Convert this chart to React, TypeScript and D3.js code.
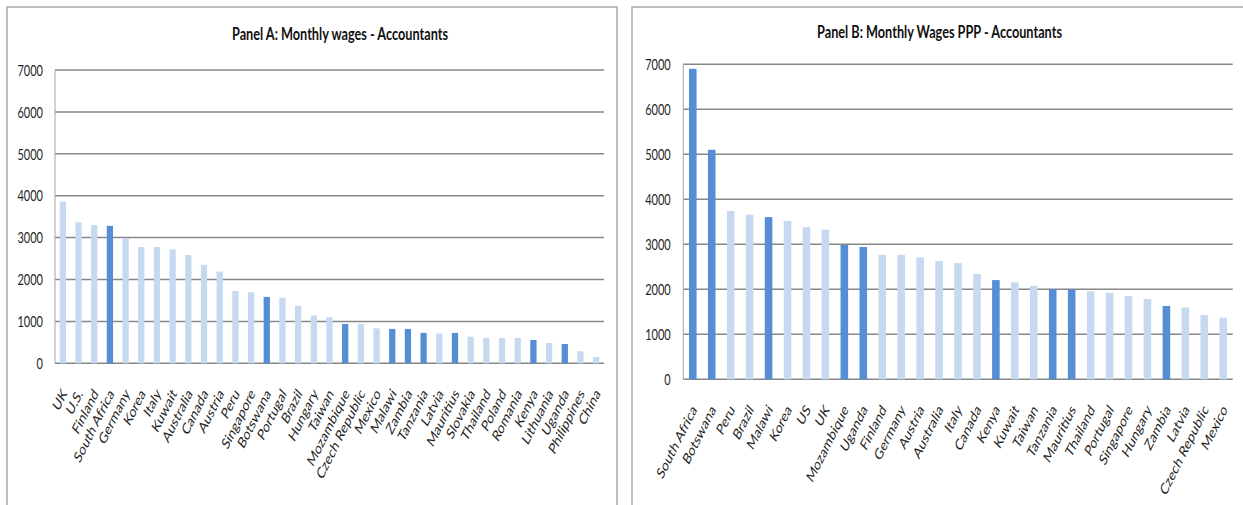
import React from "react";
import * as d3 from "d3";

// Panel A: monthly wages of accountants (USD)
const wageCountries = [
  "UK", "U.S.", "Finland", "South Africa", "Germany", "Korea", "Italy", "Kuwait",
  "Australia", "Canada", "Austria", "Peru", "Singapore", "Botswana", "Portugal",
  "Brazil", "Hungary", "Taiwan", "Mozambique", "Czech Republic", "Mexico", "Malawi",
  "Zambia", "Tanzania", "Latvia", "Mauritius", "Slovakia", "Thailand", "Poland",
  "Romania", "Kenya", "Lithuania", "Uganda", "Philippines", "China",
];
const wageValues = [
  3860, 3365, 3300, 3280, 2985, 2775, 2775, 2720,
  2585, 2350, 2190, 1725, 1695, 1585, 1565,
  1370, 1140, 1100, 940, 940, 835, 820,
  820, 725, 710, 725, 635, 605, 605,
  605, 555, 485, 460, 285, 150,
];

// Panel B: monthly wages of accountants at PPP
const pppCountries = [
  "South Africa", "Botswana", "Peru", "Brazil", "Malawi", "Korea", "US", "UK",
  "Mozambique", "Uganda", "Finland", "Germany", "Austria", "Australia", "Italy",
  "Canada", "Kenya", "Kuwait", "Taiwan", "Tanzania", "Mauritius", "Thailand",
  "Portugal", "Singapore", "Hungary", "Zambia", "Latvia", "Czech Republic", "Mexico",
];
const pppValues = [
  6900, 5100, 3740, 3660, 3605, 3520, 3380, 3325,
  2985, 2940, 2765, 2765, 2710, 2630, 2580,
  2340, 2205, 2155, 2075, 2000, 2000, 1955,
  1925, 1850, 1785, 1630, 1595, 1430, 1370,
];

// African countries are drawn in the darker blue
const africanCountries = [
  "South Africa", "Botswana", "Mozambique", "Malawi", "Zambia", "Tanzania",
  "Mauritius", "Kenya", "Uganda",
];

const yTicks = [0, 1000, 2000, 3000, 4000, 5000, 6000, 7000];
const titles = [
  "Panel A: Monthly wages - Accountants",
  "Panel B: Monthly Wages PPP - Accountants",
];

const DARK = "#558ED5";
const LIGHT = "#C6D9F1";
const GRID = "#878787";
const TEXT = "#1f1f1f";
const FONT = "Lato, 'Open Sans', sans-serif";
const SY = 1.4; // vertical text stretch

type Layout = {
  boxX: number;
  boxY: number;
  boxW: number;
  left: number;
  right: number;
  top: number;
  bottom: number;
  titleX: number;
  titleY: number;
  yLabelX: number;
};

const layoutA: Layout = {
  boxX: 7, boxY: 7, boxW: 610,
  left: 55, right: 604, top: 70, bottom: 363.3,
  titleX: 340, titleY: 33, yLabelX: 43,
};
const layoutB: Layout = {
  boxX: 632, boxY: 7, boxW: 640,
  left: 683.3, right: 1232.7, top: 64.3, bottom: 379.3,
  titleX: 939.5, titleY: 31.5, yLabelX: 670.7,
};

function Panel({
  layout,
  categories,
  values,
  title,
}: {
  layout: Layout;
  categories: string[];
  values: number[];
  title: string;
}) {
  const x = d3
    .scaleBand<string>()
    .domain(categories)
    .range([layout.left, layout.right])
    .paddingInner(0.6)
    .paddingOuter(0.3);
  const y = d3.scaleLinear().domain([0, 7000]).range([layout.bottom, layout.top]);

  return (
    <g>
      {/* chart frame */}
      <path
        d={`M${layout.boxX},520 V${layout.boxY} H${layout.boxX + layout.boxW} V520`}
        fill="white"
        stroke="#ababab"
        strokeWidth={1.5}
      />
      <text
        transform={`translate(${layout.titleX},${layout.titleY}) scale(1,${SY})`}
        textAnchor="middle"
        dominantBaseline="central"
        fontFamily={FONT}
        fontWeight="bold"
        fontSize={12.7}
        fill="#111"
      >
        {title}
      </text>

      {/* gridlines and value labels */}
      {yTicks.map((t) => (
        <g key={t}>
          <line
            x1={layout.left}
            x2={layout.right}
            y1={y(t)}
            y2={y(t)}
            stroke={GRID}
            strokeWidth={1.5}
          />
          <text
            transform={`translate(${layout.yLabelX},${y(t)}) scale(1,${SY})`}
            textAnchor="end"
            dominantBaseline="central"
            fontFamily={FONT}
            fontSize={11}
            fill={TEXT}
          >
            {t}
          </text>
        </g>
      ))}
      <line
        x1={layout.left}
        x2={layout.left}
        y1={layout.top}
        y2={layout.bottom}
        stroke="#a6a6a6"
        strokeWidth={1}
      />

      {/* bars */}
      {categories.map((c, i) => (
        <rect
          key={c}
          x={x(c)}
          y={y(values[i])}
          width={x.bandwidth()}
          height={y(0) - y(values[i])}
          fill={africanCountries.includes(c) ? DARK : LIGHT}
        />
      ))}

      {/* category labels */}
      {categories.map((c) => (
        <text
          key={c}
          transform={`translate(${(x(c) ?? 0) + x.bandwidth() / 2 + 1},${layout.bottom + 27}) scale(1,${SY}) rotate(-55)`}
          textAnchor="end"
          dominantBaseline="central"
          fontFamily={FONT}
          fontSize={11.3}
          fill={TEXT}
        >
          {c}
        </text>
      ))}
    </g>
  );
}

export default function App() {
  return (
    <div style={{ position: "absolute", left: 0, top: 0 }}>
      <svg width={1243} height={505} style={{ display: "block", background: "white" }}>
        <rect width={1243} height={505} fill="white" />
        <Panel layout={layoutA} categories={wageCountries} values={wageValues} title={titles[0]} />
        <Panel layout={layoutB} categories={pppCountries} values={pppValues} title={titles[1]} />
      </svg>
    </div>
  );
}
